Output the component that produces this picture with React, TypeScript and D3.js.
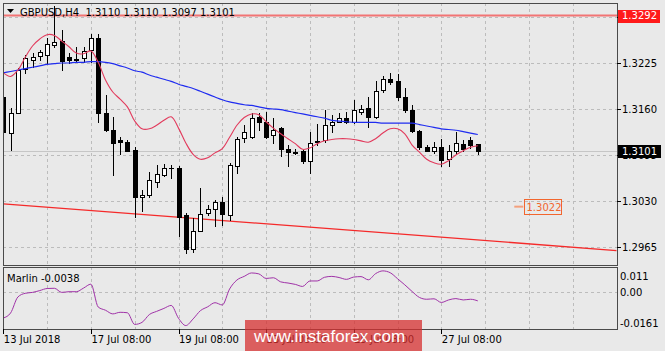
import React from "react";
import * as d3 from "d3";

const W = 665;
const H = 351;

// H4 candles, GBPUSD
const opens = [
  1.3177, 1.3126, 1.3155, 1.3216, 1.3229, 1.3235, 1.3236, 1.3250, 1.3256, 1.3233,
  1.3231, 1.3232, 1.3243, 1.3261, 1.3155, 1.3130, 1.3116, 1.3114, 1.3102, 1.3035,
  1.3039, 1.3057, 1.3067, 1.3077, 1.3076, 1.3010, 1.2962, 1.2988, 1.3013, 1.3019,
  1.3029, 1.3010, 1.3080, 1.3119, 1.3121, 1.3148, 1.3142, 1.3123, 1.3133, 1.3103,
  1.3099, 1.3100, 1.3087, 1.3115, 1.3116, 1.3138, 1.3142, 1.3147, 1.3142, 1.3156,
  1.3161, 1.3148, 1.3187, 1.3203, 1.3199, 1.3177, 1.3158, 1.3129, 1.3106, 1.3101,
  1.3106, 1.3089, 1.3101, 1.3111, 1.3116, 1.3110,
];
const highs = [
  1.3180, 1.3161, 1.3218, 1.3236, 1.3239, 1.3244, 1.3260, 1.3306, 1.3272, 1.3239,
  1.3248, 1.3248, 1.3266, 1.3266, 1.3180, 1.3149, 1.3120, 1.3116, 1.3107, 1.3046,
  1.3071, 1.3081, 1.3082, 1.3081, 1.3079, 1.3013, 1.3006, 1.3048, 1.3024, 1.3031,
  1.3036, 1.3084, 1.3121, 1.3137, 1.3154, 1.3154, 1.3156, 1.3147, 1.3135, 1.3109,
  1.3104, 1.3102, 1.3128, 1.3139, 1.3158, 1.3152, 1.3154, 1.3156, 1.3173, 1.3166,
  1.3177, 1.3199, 1.3206, 1.3211, 1.3209, 1.3189, 1.3166, 1.3130, 1.3109, 1.3114,
  1.3118, 1.3109, 1.3128, 1.3116, 1.3120, 1.3110,
];
const lows = [
  1.3116, 1.3102, 1.3154, 1.3211, 1.3220, 1.3229, 1.3225, 1.3248, 1.3215, 1.3225,
  1.3228, 1.3227, 1.3227, 1.3142, 1.3129, 1.3067, 1.3097, 1.3100, 1.3008, 1.3016,
  1.3035, 1.3050, 1.3065, 1.3062, 1.2981, 1.2957, 1.2958, 1.2988, 1.3010, 1.2994,
  1.2996, 1.3003, 1.3070, 1.3114, 1.3119, 1.3131, 1.3119, 1.3112, 1.3093, 1.3079,
  1.3096, 1.3084, 1.3070, 1.3109, 1.3114, 1.3127, 1.3141, 1.3140, 1.3140, 1.3153,
  1.3135, 1.3147, 1.3184, 1.3196, 1.3173, 1.3156, 1.3127, 1.3104, 1.3100, 1.3098,
  1.3079, 1.3080, 1.3098, 1.3100, 1.3105, 1.3097,
];
const closes = [
  1.3128, 1.3154, 1.3215, 1.3232, 1.3234, 1.3240, 1.3252, 1.3255, 1.3228, 1.3229,
  1.3229, 1.3242, 1.3260, 1.3154, 1.3130, 1.3112, 1.3113, 1.3101, 1.3035, 1.3038,
  1.3060, 1.3068, 1.3076, 1.3076, 1.3008, 1.2962, 1.2988, 1.3011, 1.3018, 1.3028,
  1.3012, 1.3081, 1.3117, 1.3128, 1.3147, 1.3142, 1.3121, 1.3130, 1.3104, 1.3099,
  1.3098, 1.3086, 1.3112, 1.3113, 1.3137, 1.3142, 1.3147, 1.3141, 1.3158, 1.3160,
  1.3149, 1.3186, 1.3203, 1.3198, 1.3177, 1.3159, 1.3129, 1.3106, 1.3101, 1.3106,
  1.3088, 1.3101, 1.3112, 1.3103, 1.3109, 1.3101,
];

// Blue moving average
const maBlue = [
  1.3211, 1.3213, 1.3215, 1.3217, 1.3219, 1.3221, 1.3223, 1.3224, 1.3225, 1.3225,
  1.3226, 1.3226, 1.3227, 1.3227, 1.3226, 1.3224, 1.3221, 1.3218, 1.3214, 1.3212,
  1.3208, 1.3205, 1.3202, 1.3199, 1.3195, 1.3192, 1.3189, 1.3185, 1.3181, 1.3177,
  1.3173, 1.3170, 1.3168, 1.3166, 1.3165, 1.3163, 1.3161, 1.3160, 1.3159, 1.3157,
  1.3155, 1.3153, 1.3151, 1.3149, 1.3147, 1.3144, 1.3143, 1.3142, 1.3141, 1.3141,
  1.3141, 1.3141, 1.3140, 1.3140, 1.3140, 1.3140, 1.3140, 1.3138, 1.3136, 1.3134,
  1.3132, 1.3131, 1.3130, 1.3128, 1.3126, 1.3124,
];
// Crimson fast average
const maRed = [
  1.3211, 1.3206, 1.3215, 1.3233, 1.3249, 1.3259, 1.3265, 1.3264, 1.3256, 1.3248,
  1.3239, 1.3238, 1.3242, 1.3226, 1.3201, 1.3184, 1.3174, 1.3163, 1.3143, 1.3132,
  1.3132, 1.3137, 1.3144, 1.3149, 1.3133, 1.3112, 1.3096, 1.3089, 1.3091, 1.3098,
  1.3104, 1.3120, 1.3137, 1.3148, 1.3153, 1.3152, 1.3142, 1.3133, 1.3125, 1.3118,
  1.3111, 1.3103, 1.3105, 1.3111, 1.3115, 1.3117, 1.3118, 1.3118, 1.3117, 1.3115,
  1.3113, 1.3118, 1.3126, 1.3132, 1.3132, 1.3125, 1.3109, 1.3099, 1.3089, 1.3084,
  1.3082, 1.3087, 1.3095, 1.3101, 1.3106, 1.3108,
];
// Marlin oscillator
const marlin = [
  -0.0113, -0.0091, -0.0021, -0.0005, -0.0001, 0.0007, 0.0016, 0.0017, -0.0001, 0.0002,
  0.0002, 0.0018, 0.0035, -0.0065, -0.0079, -0.0095, -0.0088, -0.0090, -0.0141, -0.0132,
  -0.0098, -0.0084, -0.0071, -0.0058, -0.0114, -0.0146, -0.0117, -0.0081, -0.0064, -0.0046,
  -0.0056, 0.0014, 0.0053, 0.0069, 0.0084, 0.0080, 0.0060, 0.0063, 0.0045, 0.0040,
  0.0034, 0.0025, 0.0049, 0.0049, 0.0065, 0.0069, 0.0064, 0.0056, 0.0066, 0.0068,
  0.0054, 0.0081, 0.0093, 0.0085, 0.0059, 0.0032, 0.0003, -0.0023, -0.0031, -0.0029,
  -0.0045, -0.0034, -0.0028, -0.0034, -0.0031, -0.0038,
];

const priceTicks = [1.2965, 1.303, 1.3095, 1.316, 1.3225, 1.329];
const dateLabels = ["13 Jul 2018", "17 Jul 08:00", "19 Jul 08:00", "23 Jul 08:00", "25 Jul 08:00", "27 Jul 08:00"];
const dateLabelIdx = [0, 12, 24, 36, 48, 60];
const gridIdx = [6, 12, 18, 24, 30, 36, 42, 48, 54, 60, 66, 72, 78];
const trendIdx = [0, 84];
const trendPrice = [1.3026, 1.296];
const levelLine = 1.3292;
const lastPrice = 1.3101;
const targetLevel = 1.3022;
const targetIdx = [70, 71.3];
const marlinTicks = [0.011, 0.0, -0.0161];
const marlinTickText = ["0.011", "0.00", "-0.0161"];

const FONT = "DejaVu Sans";

export default function App() {
  const L = 3, R = 617, T = 3, B = 265, IT = 267, IB = 329;
  const x = d3.scaleLinear().domain([0, 84]).range([3.3, 616.5]);
  const y = d3.scaleLinear().domain([1.2965, 1.3225]).range([247, 63]);
  const yi = d3.scaleLinear().domain([-0.0161, 0.011]).range([IB, IT]);
  const c = (v: number) => Math.round(v) + 0.5;

  const lineBlue = d3.line<number>().x((_, i) => x(i)).y((d) => y(d)).curve(d3.curveMonotoneX);
  const lineRed = d3.line<number>().x((_, i) => x(i)).y((d) => y(d)).curve(d3.curveCatmullRom);
  const lineMarlin = d3.line<number>().x((_, i) => x(i)).y((d) => yi(d)).curve(d3.curveMonotoneX);

  const bg = "#e9e9e9";
  const gridColor = "#bcbcbc";
  const frame = "#4a4a4a";

  return (
    <svg width={W} height={H} style={{ position: "absolute", left: 0, top: 0, display: "block" }} fontFamily={FONT}>
      <defs>
        <clipPath id="mainClip">
          <rect x={L} y={T} width={R - L} height={B - T} />
        </clipPath>
        <clipPath id="indClip">
          <rect x={L} y={IT} width={R - L} height={IB - IT} />
        </clipPath>
      </defs>
      <rect x={0} y={0} width={W} height={H} fill={bg} />

      {/* main grid */}
      <g stroke={gridColor} strokeWidth={1} strokeDasharray="3,3" shapeRendering="crispEdges">
        {priceTicks.map((p) => (
          <line key={"h" + p} x1={L} x2={R} y1={c(y(p))} y2={c(y(p))} />
        ))}
        {gridIdx.map((i) => (
          <line key={"v" + i} x1={c(x(i))} x2={c(x(i))} y1={T} y2={B} />
        ))}
        {gridIdx.map((i) => (
          <line key={"vi" + i} x1={c(x(i))} x2={c(x(i))} y1={IT} y2={IB} />
        ))}
        <line x1={L} x2={R} y1={c(yi(0))} y2={c(yi(0))} />
      </g>

      <g clipPath="url(#mainClip)">
        {/* bid line */}
        <line x1={L} x2={R} y1={c(y(lastPrice))} y2={c(y(lastPrice))} stroke="#c6c6c6" strokeWidth={1} />
        {/* horizontal level */}
        <line x1={L} x2={R} y1={y(levelLine)} y2={y(levelLine)} stroke="#f27474" strokeWidth={2} />
        {/* trend line */}
        <line
          x1={x(trendIdx[0])}
          y1={y(trendPrice[0])}
          x2={x(trendIdx[1])}
          y2={y(trendPrice[1])}
          stroke="#f52a2a"
          strokeWidth={1.3}
        />
        {/* candles */}
        {opens.map((o, i) => {
          const cl = closes[i];
          const cx = c(x(i));
          const up = cl >= o;
          const top = Math.round(y(Math.max(o, cl)));
          const bot = Math.round(y(Math.min(o, cl)));
          return (
            <g key={"k" + i} shapeRendering="crispEdges">
              <line x1={cx} x2={cx} y1={Math.round(y(highs[i]))} y2={Math.round(y(lows[i])) + 1} stroke="#000" strokeWidth={1} />
              {up ? (
                <rect x={cx - 2} y={top + 0.5} width={4} height={Math.max(bot - top, 1)} fill="#fff" stroke="#000" strokeWidth={1} />
              ) : (
                <rect x={cx - 2.5} y={top} width={5} height={Math.max(bot - top + 1, 1)} fill="#000" />
              )}
            </g>
          );
        })}
        <path d={lineBlue(maBlue) || ""} fill="none" stroke="#1f2cf0" strokeWidth={1.2} />
        <path d={lineRed(maRed) || ""} fill="none" stroke="#e23a5c" strokeWidth={1.1} />

        {/* target label */}
        <line
          x1={x(targetIdx[0])}
          x2={x(targetIdx[1]) - 0.5}
          y1={y(targetLevel)}
          y2={y(targetLevel)}
          stroke="#f4a07c"
          strokeWidth={2}
        />
        <rect
          x={c(x(targetIdx[1]))}
          y={c(y(targetLevel) - 7.5)}
          width={37}
          height={15}
          fill="none"
          stroke="#f2662e"
          strokeWidth={1}
        />
        <text x={c(x(targetIdx[1])) + 2} y={y(targetLevel) + 4} fontSize={10} fill="#f2662e">
          {targetLevel.toFixed(4)}
        </text>
      </g>

      {/* indicator */}
      <g clipPath="url(#indClip)">
        <path d={lineMarlin(marlin) || ""} fill="none" stroke="#a032a8" strokeWidth={1} />
      </g>
      <text x={7} y={281.5} fontSize={10} fill="#000">
        {"Marlin " + marlin[marlin.length - 1].toFixed(4)}
      </text>

      {/* frames */}
      <g fill="none" stroke={frame} strokeWidth={1} shapeRendering="crispEdges">
        <rect x={L + 0.5} y={T + 0.5} width={R - L} height={B - T} />
        <rect x={L + 0.5} y={IT + 0.5} width={R - L} height={IB - IT} />
      </g>

      {/* title */}
      <path d="M7,9 L14,9 L10.5,13 Z" fill="#000" />
      <text x={20} y={16} fontSize={10} fill="#000" style={{ whiteSpace: "pre" }}>
        {"GBPUSD,H4  " + [opens[65], highs[65], lows[65], closes[65]].map((v) => v.toFixed(4)).join(" ")}
      </text>

      {/* price axis */}
      <g fontSize={10} fill="#000">
        {priceTicks.map((p) => (
          <g key={"pt" + p}>
            <line x1={R} x2={R + 4} y1={c(y(p))} y2={c(y(p))} stroke="#000" shapeRendering="crispEdges" />
            <text x={622} y={y(p) + 3.8}>
              {p.toFixed(4)}
            </text>
          </g>
        ))}
      </g>
      {/* level & last price boxes */}
      <rect x={618} y={Math.round(y(levelLine)) - 6} width={42} height={13} fill="#ff1a1a" />
      <text x={622} y={y(levelLine) + 3.8} fontSize={10} fill="#fff">
        {levelLine.toFixed(4)}
      </text>
      <rect x={618} y={Math.round(y(lastPrice)) - 6} width={43} height={13} fill="#000" />
      <text x={622} y={y(lastPrice) + 3.8} fontSize={10} fill="#fff">
        {lastPrice.toFixed(4)}
      </text>

      {/* indicator axis */}
      <g fontSize={10} fill="#000">
        {marlinTicks.map((v, k) => {
          const yy = k === 0 ? yi(v) + 9 : k === 2 ? yi(v) - 6 : yi(v);
          return (
            <text key={"mt" + k} x={620} y={yy + 3.8}>
              {marlinTickText[k]}
            </text>
          );
        })}
      </g>

      {/* time axis */}
      <g fontSize={10} fill="#000">
        {dateLabelIdx.map((i, k) => (
          <g key={"d" + k}>
            <line x1={c(x(i))} x2={c(x(i))} y1={IB} y2={IB + 5} stroke="#000" shapeRendering="crispEdges" />
            <text x={x(i) + 0.5} y={343}>
              {dateLabels[k]}
            </text>
          </g>
        ))}
      </g>

      {/* watermark */}
      <rect x={245} y={320} width={177} height={31} fill="#d62f2f" opacity={0.75} />
      <text x={254} y={342} fontSize={17} fill="#fff" fontFamily="Liberation Sans">
        www.instaforex.com
      </text>
    </svg>
  );
}
